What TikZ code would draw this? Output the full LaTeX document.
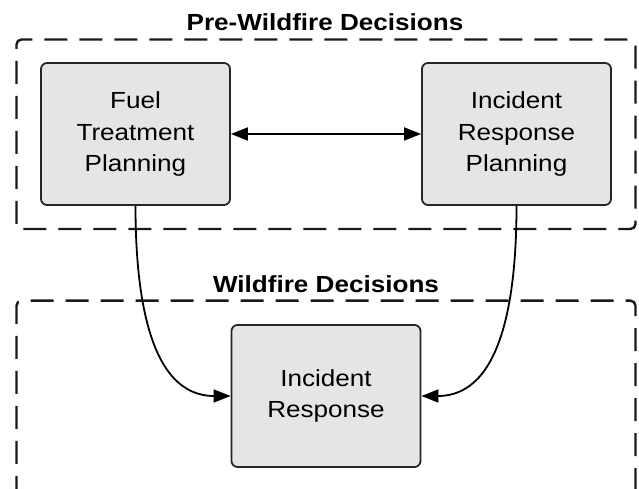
\documentclass[tikz,border=0pt]{standalone}
\usepackage{fontspec}
\setmainfont{Liberation Sans}[FakeStretch=1.12]
\usetikzlibrary{arrows.meta}
\begin{document}
\begin{tikzpicture}[x=1pt,y=1pt,
  block/.style={draw=black!85,line width=1.8pt,fill=black!10,rounded corners=6pt,
    minimum width=189pt,minimum height=142pt,align=center,
    font=\fontsize{23.3}{31.5}\selectfont},
  group/.style={draw=black!90,line width=2.4pt,dash pattern=on 23pt off 12pt,rounded corners=5pt},
  grouptitle/.style={anchor=base,font=\fontsize{23.3}{28}\selectfont\bfseries},
  link/.style={line width=1.8pt,-{Triangle[length=17pt,width=13pt]}}]
\useasboundingbox (0,0) rectangle (639,489);
\clip (0,0) rectangle (639,489);

\draw[group] (16.5,260) rectangle (635.5,449.5);
\node[grouptitle] (pretitle) at (325,458) {Pre-Wildfire Decisions};

\draw[group] (16.5,-10) -- (16.5,188.3) -- (635.5,188.3) -- (635.5,-10);
\node[grouptitle] (firetitle) at (326,196.3) {Wildfire Decisions};

\node[block] (fuel) at (135.5,355) {Fuel\\Treatment\\Planning};
\node[block] (irplan) at (516.5,355) {Incident\\Response\\Planning};
\node[block] (response) at (326,93) {Incident\\Response};

\draw[link,{Triangle[length=17pt,width=13pt]}-{Triangle[length=17pt,width=13pt]}] (fuel.east) -- (irplan.west);
\draw[link] (fuel.south) to[out=-90,in=180] (response.west);
\draw[link] (irplan.south) to[out=-90,in=0] (response.east);
\end{tikzpicture}
\end{document}
